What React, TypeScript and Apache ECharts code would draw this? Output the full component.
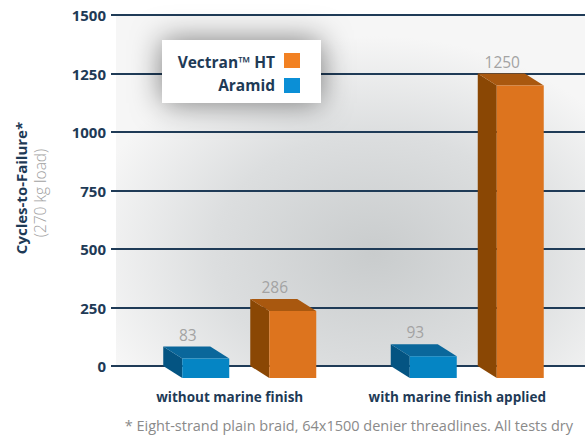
import React, { useEffect, useRef } from "react";
import * as echarts from "echarts";

const categories = ["without marine finish", "with marine finish applied"];
const aramidValues = [83, 93];
const vectranValues = [286, 1250];
const yMin = 0;
const yMax = 1500;
const yInterval = 250;
const legendNames = ["Vectran\u2122 HT", "Aramid"];
const footnote = "* Eight-strand plain braid, 64x1500 denier threadlines. All tests dry";
const yTitle = "Cycles-to-Failure*";
const ySubTitle = "(270 kg load)";

const NAVY = "#1e3a56";
const FONT = "'Open Sans', 'Noto Sans', sans-serif";

function makeBox(offset: number, front: string, topC: string, side: string) {
  return (params: any, api: any) => {
    const cat = api.value(0);
    const v = api.value(1);
    const top = api.coord([cat, v]);
    const base = api.coord([cat, 0]);
    const w = 47, dx = 19, dy = 12;
    const cx = top[0] + offset;
    const L = cx - w / 2;
    const yT = top[1];
    const y0 = base[1];
    return {
      type: "group",
      children: [
        { type: "polygon", shape: { points: [[L, yT], [L + dx, yT + dy], [L + dx, y0 + dy], [L, y0]] }, style: { fill: side } },
        { type: "polygon", shape: { points: [[L, yT], [L + w, yT], [L + w + dx, yT + dy], [L + dx, yT + dy]] }, style: { fill: topC } },
        { type: "rect", shape: { x: L + dx, y: yT + dy, width: w, height: y0 - yT }, style: { fill: front } },
        {
          type: "text",
          x: cx + 1,
          y: yT - 12,
          style: { text: String(v), fill: "#a3a3a3", font: `400 15.5px ${FONT}`, align: "center", verticalAlign: "middle" },
        },
      ],
    };
  };
}

export default function App() {
  const ref = useRef<HTMLDivElement>(null);
  useEffect(() => {
    if (!ref.current) return;
    const chart = echarts.init(ref.current, null, { renderer: "svg" });
    const option: any = {
      animation: false,
      backgroundColor: "#ffffff",
      grid: [
        { left: 111, right: 0, top: 15, bottom: 70 },
        { left: 116, right: 14, top: 15, bottom: 70 },
      ],
      xAxis: [
        { gridIndex: 0, type: "category", data: categories, show: false },
        {
          gridIndex: 1,
          type: "category",
          data: categories,
          axisLine: { show: false },
          axisTick: { show: false },
          axisLabel: { interval: 0, margin: 24, color: NAVY, fontFamily: FONT, fontWeight: 700, fontSize: 13.5 },
        },
      ],
      yAxis: [
        {
          gridIndex: 0,
          type: "value",
          min: yMin,
          max: yMax,
          interval: yInterval,
          z: 3,
          axisLine: { show: false },
          axisTick: { show: false },
          axisLabel: {
            margin: 5,
            color: NAVY,
            fontFamily: FONT,
            fontWeight: 700,
            fontSize: 15,
            formatter: (v: number) => String(v),
          },
          splitLine: { show: true, lineStyle: { color: "#1f3b57", width: 2 } },
        },
        { gridIndex: 1, type: "value", min: yMin, max: yMax, interval: yInterval, show: false, splitLine: { show: false } },
      ],
      series: [
        {
          name: legendNames[1],
          type: "custom",
          xAxisIndex: 1,
          yAxisIndex: 1,
          data: aramidValues.map((v, i) => [i, v]),
          encode: { x: 0, y: 1 },
          renderItem: makeBox(-43, "#0585c4", "#0a679b", "#045482"),
          z: 5,
        },
        {
          name: legendNames[0],
          type: "custom",
          xAxisIndex: 1,
          yAxisIndex: 1,
          data: vectranValues.map((v, i) => [i, v]),
          encode: { x: 0, y: 1 },
          renderItem: makeBox(44, "#dd741e", "#a9580f", "#8a4704"),
          z: 5,
        },
      ],
      graphic: [
        {
          type: "rect",
          z: -10,
          silent: true,
          shape: { x: 116, y: 15, width: 469, height: 351 },
          style: {
            fill: {
              type: "radial",
              x: 0.55,
              y: 0.68,
              r: 0.62,
              colorStops: [
                { offset: 0, color: "#c9cccd" },
                { offset: 0.55, color: "#dcdedf" },
                { offset: 1, color: "#f6f6f6" },
              ],
            },
          },
        },
        {
          type: "rect",
          z: 100,
          shape: { x: 162, y: 40, width: 159, height: 63 },
          style: { fill: "#ffffff", shadowBlur: 30, shadowColor: "rgba(0,0,0,0.5)" },
        },
        {
          type: "text",
          z: 101,
          x: 275,
          y: 62,
          style: { text: legendNames[0], fill: NAVY, font: `700 15.5px ${FONT}`, align: "right", verticalAlign: "middle" },
        },
        {
          type: "text",
          z: 101,
          x: 275,
          y: 85,
          style: { text: legendNames[1], fill: NAVY, font: `700 15.5px ${FONT}`, align: "right", verticalAlign: "middle" },
        },
        { type: "rect", z: 101, shape: { x: 284, y: 53, width: 16, height: 15 }, style: { fill: "#f28122" } },
        { type: "rect", z: 101, shape: { x: 284, y: 78, width: 16, height: 15 }, style: { fill: "#0b8fd6" } },
        {
          type: "text",
          x: 21,
          y: 188,
          rotation: Math.PI / 2,
          style: { text: yTitle, fill: NAVY, font: `700 15px ${FONT}`, align: "center", verticalAlign: "middle" },
        },
        {
          type: "text",
          x: 40,
          y: 193,
          rotation: Math.PI / 2,
          style: { text: ySubTitle, fill: "#a0a0a0", font: `300 15.5px ${FONT}`, align: "center", verticalAlign: "middle" },
        },
        {
          type: "text",
          x: 573,
          y: 425,
          style: { text: footnote, fill: "#8a8a8a", font: `400 14.5px ${FONT}`, align: "right", verticalAlign: "middle" },
        },
      ],
    };
    chart.setOption(option);
    return () => chart.dispose();
  }, []);
  return <div ref={ref} style={{ position: "fixed", left: 0, top: 0, width: 585, height: 436 }} />;
}
